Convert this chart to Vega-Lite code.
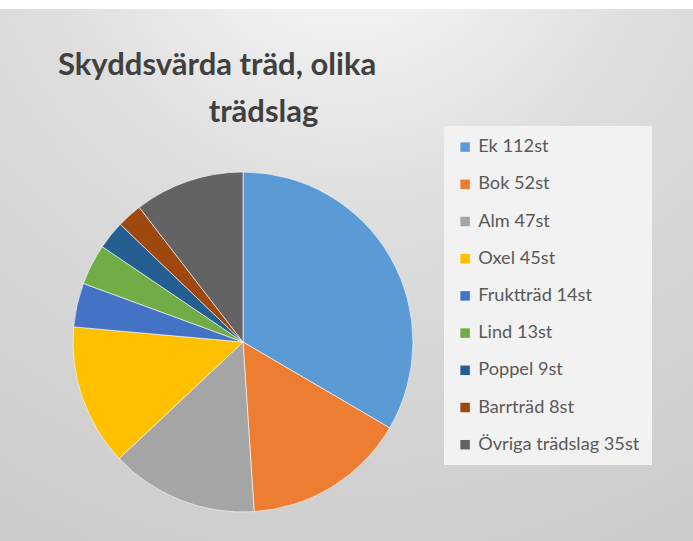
{
  "$schema": "https://vega.github.io/schema/vega-lite/v6.json",
  "autosize": {"type": "none"},
  "width": 900,
  "height": 666,
  "padding": {"left": -207, "top": 9, "right": 0, "bottom": -134},
  "background": "#ffffff",
  "view": {
    "stroke": null,
    "fill": {
      "gradient": "radial",
      "x1": 0.615, "y1": 0.0, "r1": 0,
      "x2": 0.615, "y2": 0.0, "r2": 1,
      "stops": [
        {"offset": 0, "color": "#fdfdfd"},
        {"offset": 0.35, "color": "#dedede"},
        {"offset": 0.55, "color": "#d5d5d5"},
        {"offset": 0.9, "color": "#c8c8c8"},
        {"offset": 1, "color": "#c4c4c4"}
      ]
    }
  },
  "title": {
    "text": ["Skyddsvärda träd, olika", "\u200b\u00a0\u00a0\u00a0\u00a0\u00a0\u00a0\u00a0\u00a0\u00a0\u00a0\u00a0\u00a0\u00a0\u00a0\u00a0\u00a0\u00a0\u00a0\u00a0\u00a0trädslag"],
    "anchor": "start",
    "frame": "group",
    "orient": "top",
    "baseline": "alphabetic",
    "offset": -144,
    "dx": 265,
    "font": "Lato",
    "fontSize": 31,
    "fontWeight": "bold",
    "color": "#404040",
    "lineHeight": 47
  },
  "data": {
    "values": [
      {"trad": "Ek 112st", "antal": 112, "nr": 1},
      {"trad": "Bok 52st", "antal": 52, "nr": 2},
      {"trad": "Alm 47st", "antal": 47, "nr": 3},
      {"trad": "Oxel 45st", "antal": 45, "nr": 4},
      {"trad": "Fruktträd 14st", "antal": 14, "nr": 5},
      {"trad": "Lind 13st", "antal": 13, "nr": 6},
      {"trad": "Poppel 9st", "antal": 9, "nr": 7},
      {"trad": "Barrträd 8st", "antal": 8, "nr": 8},
      {"trad": "Övriga trädslag 35st", "antal": 35, "nr": 9}
    ]
  },
  "mark": {"type": "arc", "outerRadius": 170, "stroke": "#ffffff", "strokeWidth": 0.6},
  "encoding": {
    "theta": {"field": "antal", "type": "quantitative", "stack": true},
    "order": {"field": "nr", "type": "quantitative", "sort": "ascending"},
    "color": {
      "field": "trad",
      "type": "nominal",
      "sort": null,
      "scale": {
        "domain": ["Ek 112st", "Bok 52st", "Alm 47st", "Oxel 45st", "Fruktträd 14st", "Lind 13st", "Poppel 9st", "Barrträd 8st", "Övriga trädslag 35st"],
        "range": ["#5B9BD5", "#ED7D31", "#A5A5A5", "#FFC000", "#4472C4", "#70AD47", "#255E91", "#9E480E", "#636363"]
      },
      "legend": {
        "title": null,
        "orient": "none",
        "legendX": 651,
        "legendY": 117,
        "fillColor": "#f2f2f2",
        "padding": 12,
        "symbolType": "square",
        "symbolSize": 90,
        "symbolStrokeWidth": 0,
        "labelFont": "Lato",
        "labelFontSize": 18.2,
        "labelColor": "#595959",
        "labelOffset": 4,
        "labelLimit": 400,
        "rowPadding": 18.2
      }
    }
  }
}
